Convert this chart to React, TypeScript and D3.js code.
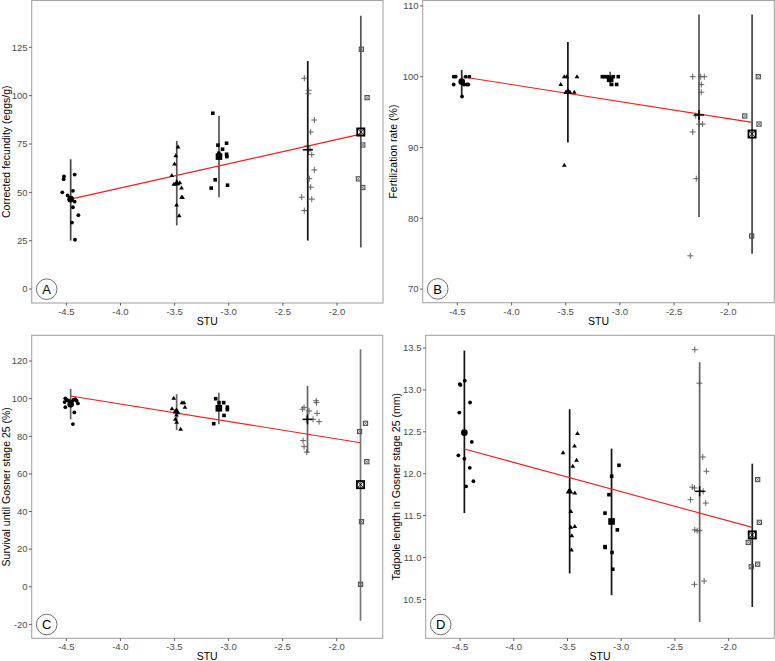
import React from 'react';
import * as d3 from 'd3';

type Pt = [number, number, number]; // [group, STU, value]

const stuTicks = [-4.5, -4.0, -3.5, -3.0, -2.5, -2.0];
const stuDomain: [number, number] = [-4.82, -1.575];
const groupStu = [-4.46, -3.48, -3.09, -2.27, -1.78];
const groupShapes = ['circle', 'triangle', 'square', 'plus', 'squareX'];

// Panel A – corrected fecundity
const fecundityTicks = [0, 25, 50, 75, 100, 125];
const fecundityMean = [46.5, 54.8, 68.5, 72.0, 81.2];
const fecundityLow = [25.1, 32.9, 47.5, 25.1, 21.5];
const fecundityHigh = [67.1, 76.6, 89.5, 117.9, 141.3];
const fecundityFit = [46.5, 80.1];
const fecundityPoints: Pt[] = [
  [0, -4.522, 58.2], [0, -4.525, 56.8], [0, -4.537, 50.0], [0, -4.488, 48.4], [0, -4.423, 59.2], [0, -4.439, 50.8],
  [0, -4.423, 45.2], [0, -4.439, 42.3], [0, -4.389, 38.2], [0, -4.448, 34.4], [0, -4.42, 25.5], [0, -4.47, 46.3],
  [1, -3.526, 58.7], [1, -3.501, 64.7], [1, -3.489, 68.9], [1, -3.468, 73.5], [1, -3.507, 54.2], [1, -3.452, 55.0],
  [1, -3.48, 54.5], [1, -3.436, 52.2], [1, -3.436, 47.5], [1, -3.427, 47.3], [1, -3.482, 43.5], [1, -3.458, 37.9],
  [2, -3.147, 90.9], [2, -3.1, 74.4], [2, -3.057, 72.3], [2, -3.02, 75.4], [2, -3.125, 56.5], [2, -3.162, 52.2],
  [2, -3.011, 53.7], [2, -3.02, 69.7], [2, -3.017, 68.5], [2, -3.091, 70.2], [2, -3.082, 69.0],
  [3, -2.302, 109.0], [3, -2.262, 102.8], [3, -2.265, 101.0], [3, -2.209, 87.4], [3, -2.243, 81.2], [3, -2.274, 74.0],
  [3, -2.249, 72.3], [3, -2.233, 69.5], [3, -2.209, 61.6], [3, -2.256, 57.1], [3, -2.243, 52.7], [3, -2.326, 47.5],
  [3, -2.233, 46.5], [3, -2.302, 40.6],
  [4, -1.775, 124.0], [4, -1.722, 99.0], [4, -1.762, 74.5], [4, -1.802, 57.0], [4, -1.762, 52.5],
];

// Panel B – fertilization rate
const fertTicks = [70, 80, 90, 100, 110];
const fertMean = [99.3, 97.9, 99.7, 94.6, 91.9];
const fertLow = [97.4, 90.7, 98.7, 80.2, 75.0];
const fertHigh = [100.95, 104.9, 100.7, 108.8, 108.8];
const fertFit = [100.0, 93.55];
const fertPoints: Pt[] = [
  [0, -4.534, 100], [0, -4.515, 100], [0, -4.534, 98.9], [0, -4.457, 97.2], [0, -4.439, 98.9], [0, -4.414, 98.9],
  [0, -4.399, 98.9], [0, -4.423, 100], [0, -4.39, 100],
  [1, -3.513, 100], [1, -3.491, 100], [1, -3.396, 100], [1, -3.546, 98.9], [1, -3.5, 97.8], [1, -3.461, 97.8],
  [1, -3.421, 97.8], [1, -3.513, 87.5], [1, -3.48, 97.9],
  [2, -3.162, 100], [2, -3.137, 100], [2, -3.113, 100], [2, -3.061, 100], [2, -3.015, 100], [2, -3.076, 98.9],
  [2, -3.03, 98.9],
  [3, -2.328, 100], [3, -2.254, 100], [3, -2.221, 100], [3, -2.249, 98.9], [3, -2.249, 97.8], [3, -2.3, 94.5],
  [3, -2.267, 93.3], [3, -2.236, 93.3], [3, -2.328, 92.2], [3, -2.295, 85.6], [3, -2.35, 74.7],
  [4, -1.723, 100], [4, -1.848, 94.45], [4, -1.716, 93.3], [4, -1.784, 77.5],
];

// Panel C – survival until Gosner stage 25
const survTicks = [-20, 0, 20, 40, 60, 80, 100, 120];
const survMean = [97.0, 93.3, 94.9, 89.0, 54.3];
const survLow = [89.0, 83.3, 86.4, 71.3, -18.1];
const survHigh = [105.2, 102.4, 103.2, 106.8, 126.3];
const survFit = [101.4, 76.6];
const survPoints: Pt[] = [
  [0, -4.509, 100.2], [0, -4.497, 99.3], [0, -4.516, 98.2], [0, -4.509, 95.5], [0, -4.435, 99.3], [0, -4.417, 99.8],
  [0, -4.405, 98.9], [0, -4.393, 97.5], [0, -4.426, 92.7], [0, -4.439, 86.5], [0, -4.451, 98.4], [0, -4.479, 99.0],
  [1, -3.507, 100.2], [1, -3.523, 94.7], [1, -3.482, 91.3], [1, -3.492, 89.0], [1, -3.48, 87.5], [1, -3.431, 97.9],
  [1, -3.412, 97.9], [1, -3.403, 95.5], [1, -3.443, 83.7], [1, -3.492, 93.5], [1, -3.473, 92.5],
  [2, -3.119, 100], [2, -3.088, 97.9], [2, -3.045, 97.9], [2, -3.011, 95.5], [2, -3.011, 94.2], [2, -3.042, 91.1],
  [2, -3.137, 86.7], [2, -3.09, 96.0],
  [3, -2.191, 98.9], [3, -2.187, 97.9], [3, -2.317, 94.4], [3, -2.302, 95.4], [3, -2.256, 93.5], [3, -2.182, 92.2],
  [3, -2.28, 89.0], [3, -2.219, 89.0], [3, -2.163, 87.8], [3, -2.311, 77.7], [3, -2.302, 74.5], [3, -2.277, 71.6],
  [4, -1.734, 86.9], [4, -1.789, 82.5], [4, -1.722, 66.5], [4, -1.771, 34.6], [4, -1.78, 1.3],
];

// Panel D – tadpole length
const lengthTicks = [10.5, 11.0, 11.5, 12.0, 12.5, 13.0, 13.5];
const lengthMean = [12.49, 11.79, 11.43, 11.79, 11.27];
const lengthLow = [11.53, 10.81, 10.55, 10.23, 10.41];
const lengthHigh = [13.47, 12.77, 12.3, 13.33, 12.12];
const lengthFit = [12.295, 11.36];
const lengthPoints: Pt[] = [
  [0, -4.503, 13.07], [0, -4.497, 13.06], [0, -4.456, 13.11], [0, -4.507, 12.73], [0, -4.407, 12.85], [0, -4.391, 12.38],
  [0, -4.516, 12.22], [0, -4.46, 12.18], [0, -4.41, 12.07], [0, -4.376, 11.91], [0, -4.444, 11.85],
  [1, -3.541, 12.25], [1, -3.407, 12.48], [1, -3.435, 12.33], [1, -3.416, 12.16], [1, -3.451, 12.09], [1, -3.432, 11.77],
  [1, -3.469, 11.55], [1, -3.469, 11.36], [1, -3.432, 11.37], [1, -3.46, 11.26], [1, -3.463, 11.09], [1, -3.49, 11.79],
  [2, -3.021, 12.1], [2, -3.089, 11.97], [2, -3.114, 11.75], [2, -3.151, 11.53], [2, -3.036, 11.33], [2, -3.151, 11.13],
  [2, -3.149, 11.12], [2, -3.086, 11.06], [2, -3.079, 10.86],
  [3, -2.315, 13.48], [3, -2.272, 13.08], [3, -2.241, 12.2], [3, -2.207, 12.03], [3, -2.339, 11.84], [3, -2.318, 11.83],
  [3, -2.237, 11.79], [3, -2.355, 11.69], [3, -2.213, 11.65], [3, -2.315, 11.33], [3, -2.293, 11.32], [3, -2.272, 11.32],
  [3, -2.318, 10.68], [3, -2.228, 10.72],
  [4, -1.73, 11.93], [4, -1.714, 11.42], [4, -1.817, 11.18], [4, -1.73, 10.92], [4, -1.789, 10.89],
];

const FONT = "'Liberation Sans', Arial, Helvetica, sans-serif";

interface PanelCfg {
  left: number; right: number; top: number; bottom: number;
  yDomain: [number, number];
  yTicks: number[];
  yFmt: (v: number) => string;
  title: string; titleX: number;
  points: Pt[]; mean: number[]; low: number[]; high: number[]; fit: number[];
  barColors: string[]; letter: string;
}

function Shape({ shape, x, y, big }: { shape: string; x: number; y: number; big: boolean }) {
  if (shape === 'circle') {
    return <circle cx={x} cy={y} r={big ? 3.3 : 1.9} fill="#000" />;
  }
  if (shape === 'triangle') {
    const s = big ? 3.8 : 2.5;
    return <path d={`M${x},${y - s}L${x + s * 0.95},${y + s * 0.6}L${x - s * 0.95},${y + s * 0.6}Z`} fill="#000" />;
  }
  if (shape === 'square') {
    const s = big ? 3.3 : 1.8;
    return <rect x={x - s} y={y - s} width={2 * s} height={2 * s} fill="#000" />;
  }
  if (shape === 'plus') {
    const s = big ? 5 : 3;
    return (
      <g stroke={big ? '#000' : '#555'} strokeWidth={big ? 1.5 : 0.9}>
        <line x1={x - s} x2={x + s} y1={y} y2={y} />
        <line x1={x} x2={x} y1={y - s} y2={y + s} />
      </g>
    );
  }
  const s = big ? 3.6 : 2.1;
  return (
    <g stroke={big ? '#000' : '#555'} fill="none">
      <rect x={x - s} y={y - s} width={2 * s} height={2 * s} strokeWidth={big ? 1.8 : 1.1} />
      <line x1={x - s} y1={y - s} x2={x + s} y2={y + s} strokeWidth={big ? 0.9 : 0.7} />
      <line x1={x - s} y1={y + s} x2={x + s} y2={y - s} strokeWidth={big ? 0.9 : 0.7} />
    </g>
  );
}

function Panel({ cfg }: { cfg: PanelCfg }) {
  const x = d3.scaleLinear().domain(stuDomain).range([cfg.left, cfg.right]);
  const y = d3.scaleLinear().domain(cfg.yDomain).range([cfg.bottom, cfg.top]);
  const fitLine = d3.line<[number, number]>().x(d => x(d[0])).y(d => y(d[1]));
  const fitData: [number, number][] = [[groupStu[0], cfg.fit[0]], [groupStu[4], cfg.fit[1]]];
  const cy = (cfg.top + cfg.bottom) / 2;
  return (
    <g fontFamily={FONT}>
      <rect x={cfg.left} y={cfg.top} width={cfg.right - cfg.left} height={cfg.bottom - cfg.top}
        fill="#fff" stroke="#a6a6a6" strokeWidth={1.1} />
      {cfg.yTicks.map(t => (
        <g key={'yt' + t}>
          <line x1={cfg.left - 2.7} x2={cfg.left} y1={y(t)} y2={y(t)} stroke="#333" strokeWidth={0.8} />
          <text x={cfg.left - 4.2} y={y(t)} dy="0.35em" textAnchor="end" fontSize={9.5} fill="#4d4d4d">{cfg.yFmt(t)}</text>
        </g>
      ))}
      {stuTicks.map(t => (
        <g key={'xt' + t}>
          <line x1={x(t)} x2={x(t)} y1={cfg.bottom} y2={cfg.bottom + 2.7} stroke="#333" strokeWidth={0.8} />
          <text x={x(t)} y={cfg.bottom + 12} textAnchor="middle" fontSize={9.5} fill="#4d4d4d">{t.toFixed(1)}</text>
        </g>
      ))}
      <text x={(cfg.left + cfg.right) / 2} y={cfg.bottom + 21.8} textAnchor="middle" fontSize={10.5} fill="#000">STU</text>
      <text transform={`translate(${cfg.titleX},${cy}) rotate(-90)`} textAnchor="middle" dy="0.35em" fontSize={10.5} fill="#000">{cfg.title}</text>
      {groupStu.map((g, i) => (
        <line key={'bar' + i} x1={x(g)} x2={x(g)} y1={y(cfg.low[i])} y2={y(cfg.high[i])} stroke={cfg.barColors[i]} strokeWidth={1.7} />
      ))}
      <path d={fitLine(fitData) || ''} stroke="#ff1a1a" strokeWidth={1.1} fill="none" />
      {cfg.points.map((p, i) => (
        <Shape key={'p' + i} shape={groupShapes[p[0]]} x={x(p[1])} y={y(p[2])} big={false} />
      ))}
      {groupStu.map((g, i) => (
        <Shape key={'m' + i} shape={groupShapes[i]} x={x(g)} y={y(cfg.mean[i])} big={true} />
      ))}
      <circle cx={cfg.left + 15} cy={cfg.bottom - 13.8} r={10.3} fill="none" stroke="#333" strokeWidth={0.7} />
      <text x={cfg.left + 15} y={cfg.bottom - 13.8} dy="0.36em" textAnchor="middle" fontSize={13} fill="#000">{cfg.letter}</text>
    </g>
  );
}

const f0 = (v: number) => String(v);
const f1 = (v: number) => v.toFixed(1);

const panels: PanelCfg[] = [
  {
    left: 31.7, right: 383, top: 0.5, bottom: 303, yDomain: [-7.2, 149.2], yTicks: fecundityTicks, yFmt: f0,
    title: 'Corrected fecundity (eggs/g)', titleX: 6.5, points: fecundityPoints, mean: fecundityMean,
    low: fecundityLow, high: fecundityHigh, fit: fecundityFit,
    barColors: ['#444', '#555', '#555', '#111', '#555'], letter: 'A',
  },
  {
    left: 422.7, right: 774.3, top: 0.5, bottom: 302.7, yDomain: [68.08, 110.76], yTicks: fertTicks, yFmt: f0,
    title: 'Fertilization rate (%)', titleX: 393, points: fertPoints, mean: fertMean,
    low: fertLow, high: fertHigh, fit: fertFit,
    barColors: ['#222', '#111', '#555', '#555', '#444'], letter: 'B',
  },
  {
    left: 31.7, right: 382.7, top: 335.3, bottom: 638.3, yDomain: [-27.4, 133.7], yTicks: survTicks, yFmt: f0,
    title: 'Survival until Gosner stage 25 (%)', titleX: 6.5, points: survPoints, mean: survMean,
    low: survLow, high: survHigh, fit: survFit,
    barColors: ['#666', '#666', '#666', '#666', '#777'], letter: 'C',
  },
  {
    left: 425.7, right: 774.3, top: 335.3, bottom: 638.3, yDomain: [10.036, 13.652], yTicks: lengthTicks, yFmt: f1,
    title: 'Tadpole length in Gosner stage 25 (mm)', titleX: 396, points: lengthPoints, mean: lengthMean,
    low: lengthLow, high: lengthHigh, fit: lengthFit,
    barColors: ['#111', '#111', '#111', '#666', '#222'], letter: 'D',
  },
];

export default function App() {
  return (
    <div style={{ position: 'absolute', left: 0, top: 0, width: 775, height: 661, background: '#fff' }}>
      <svg width={775} height={661} style={{ display: 'block' }}>
        <rect x={0} y={0} width={775} height={661} fill="#fff" />
        {panels.map(p => <Panel key={p.letter} cfg={p} />)}
      </svg>
    </div>
  );
}
